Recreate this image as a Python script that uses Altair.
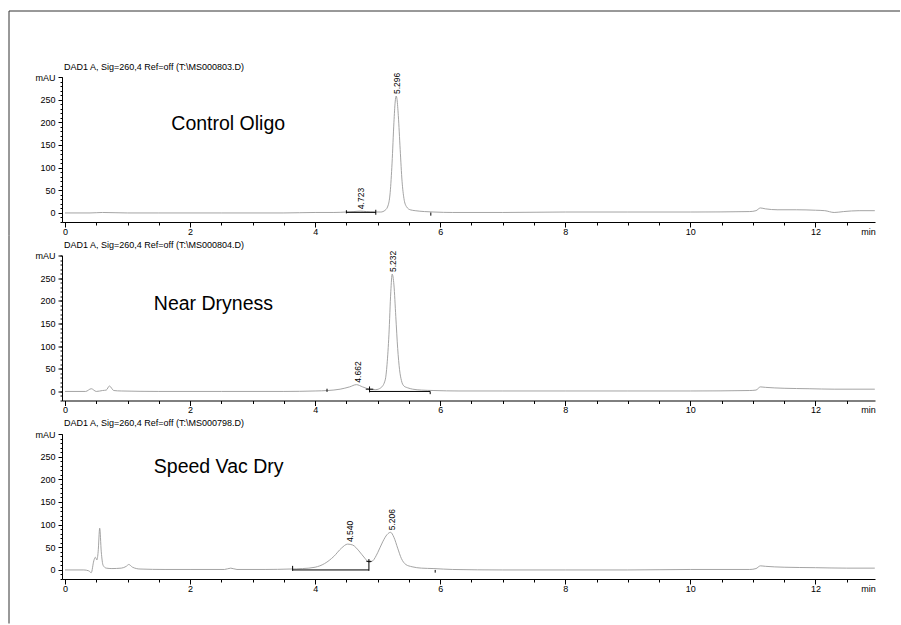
import altair as alt
import pandas as pd

FONT = "Liberation Sans"

TITLES = [
    "DAD1 A, Sig=260,4 Ref=off (T:\\MS000803.D)",
    "DAD1 A, Sig=260,4 Ref=off (T:\\MS000804.D)",
    "DAD1 A, Sig=260,4 Ref=off (T:\\MS000798.D)",
]
NAMES = ["Control Oligo", "Near Dryness", "Speed Vac Dry"]
NAME_T = [1.70, 1.42, 1.42]
NAME_V = [184, 180, 213]

# chromatogram traces (time in min, absorbance in mAU)
T1 = [0.0, 0.4, 0.6, 1.0, 1.5, 2.5, 3.5, 4.0, 4.3, 4.5, 4.62, 4.72, 4.82, 4.95, 5.05, 5.12, 5.17, 5.20, 5.23, 5.26,
      5.28, 5.296, 5.31, 5.33, 5.36, 5.39, 5.42, 5.46, 5.52, 5.60, 5.75, 5.90, 6.20, 7.0, 8.0, 9.0, 10.0, 10.95, 11.05,
      11.12, 11.2, 11.4, 11.7, 12.0, 12.15, 12.3, 12.45, 12.7, 12.95]
V1 = [0, 0, 1, 0, 0, 0, 0, 1, 1, 2, 3, 4, 3, 2, 2, 6, 18, 45, 110, 200,
      245, 258, 250, 215, 140, 70, 32, 14, 7, 5, 3, 2, 1, 1, 2, 2, 2, 3, 5,
      11, 9, 7, 7, 6, 5, 1, 3, 5, 5]

T2 = [0.0, 0.33, 0.42, 0.50, 0.60, 0.66, 0.71, 0.78, 0.90, 1.5, 2.5, 3.5, 4.0, 4.2, 4.4, 4.55, 4.66, 4.76, 4.87, 4.97,
      5.05, 5.12, 5.15, 5.18, 5.21, 5.232, 5.26, 5.29, 5.32, 5.35, 5.38, 5.42, 5.48, 5.56, 5.70, 5.90, 6.3, 7.0, 8.0, 9.0,
      10.0, 10.95, 11.05, 11.12, 11.2, 11.5, 11.9, 12.3, 12.6, 12.95]
V2 = [0, 0, 6, 0, 2, 3, 12, 2, 1, 0, 0, 0, 1, 2, 5, 10, 15, 10, 5, 4,
      8, 25, 60, 125, 220, 259, 235, 165, 95, 48, 24, 12, 8, 5, 3, 2, 1, 1, 1, 1,
      1, 2, 3, 10, 9, 7, 6, 5, 5, 5]

T3 = [0.0, 0.30, 0.38, 0.42, 0.46, 0.485, 0.51, 0.53, 0.555, 0.58, 0.61, 0.66, 0.75, 0.90, 0.98, 1.02, 1.08, 1.20, 1.6,
      2.0, 2.55, 2.65, 2.75, 3.2, 3.6, 3.8, 4.0, 4.15, 4.3, 4.42, 4.52, 4.60, 4.70, 4.80, 4.86, 4.92, 5.00, 5.08, 5.15,
      5.206, 5.26, 5.32, 5.38, 5.45, 5.55, 5.70, 5.90, 6.2, 7.0, 8.0, 9.0, 10.0, 10.95, 11.05, 11.12, 11.2, 11.5, 12.0,
      12.5, 12.95]
V3 = [0, 0, -2, -6, 20, 28, 22, 40, 92, 40, 10, 4, 3, 4, 8, 12, 6, 2, 1,
      1, 1, 4, 1, 1, 2, 3, 6, 14, 30, 48, 57, 55, 42, 25, 17, 20, 38, 62, 78,
      83, 72, 48, 25, 12, 7, 4, 3, 1, 0, 0, 0, 1, 1, 3, 9, 8, 6, 5,
      4, 4]

TRACE_T = [T1, T2, T3]
TRACE_V = [V1, V2, V3]

PEAK_T = [[4.723, 5.296], [4.662, 5.232], [4.540, 5.206]]
PEAK_V = [[4, 258], [15, 259], [57, 83]]
PEAK_LBL = [["4.723", "5.296"], ["4.662", "5.232"], ["4.540", "5.206"]]

# integration baselines (horizontal segments)
BASE_T1 = [[4.50], [4.87, 4.81], [3.64, 4.82]]
BASE_T2 = [[4.97], [5.84, 4.93], [4.86, 4.90]]
BASE_V = [[1.3], [0, 5], [0, 19]]

# peak start / end markers (vertical strokes)
MARK_T = [[4.50, 4.97, 5.85], [4.19, 4.87, 5.84], [3.64, 4.86, 5.92]]
MARK_LO = [[-1, -4, -6], [-1, -2, -6], [-2, -2, -6]]
MARK_HI = [[6, 7, 1], [6, 11, 0], [9, 24, 0]]

X_MAJOR = [0, 2, 4, 6, 8, 10, 12]
X_UNIT_AT = 12.84
X_MINOR = [i * 0.5 for i in range(26)]
Y_MAJOR = [0, 50, 100, 150, 200, 250, 300]
Y_MINOR = list(range(-20, 301, 10))
X_DOMAIN = [-0.048, 12.953]
Y_DOMAIN = [-20, 300]

W, H = 813, 145
GAP = 33.5
BORDER_TOP = [-66, -20, -20]
BORDER_BOT = [158.5, 158.5, 189.5]
TITLE_DY = [72, 25.5, 25.5]


def panel(i):
    xs = alt.Scale(domain=X_DOMAIN, nice=False, zero=False)
    ys = alt.Scale(domain=Y_DOMAIN, nice=False, zero=False)
    tr = pd.DataFrame({"t": TRACE_T[i], "v": TRACE_V[i]})

    x_major = alt.Axis(
        orient="bottom", values=X_MAJOR + [X_UNIT_AT], title=None, grid=False,
        labelExpr="datum.value > 12.5 ? 'min' : datum.label",
        tickSize=5, labelPadding=0, labelFlush=False, labelOverlap=False,
        tickOpacity={"condition": {"test": "datum.value > 12.5", "value": 0}, "value": 1},
    )
    y_major = alt.Axis(
        orient="left", values=Y_MAJOR, title=None, grid=False,
        labelExpr="datum.value == 300 ? 'mAU' : datum.label",
        tickSize=4, labelPadding=3, labelFlush=False, labelOverlap=False,
    )
    x_minor = alt.Axis(orient="bottom", values=X_MINOR, title=None, grid=False,
                       labels=False, domain=False, tickSize=3)
    y_minor = alt.Axis(orient="left", values=Y_MINOR, title=None, grid=False,
                       labels=False, domain=False, tickSize=2)

    line = alt.Chart(tr).mark_line(color="#9a9a9a", strokeWidth=0.9, interpolate="monotone").encode(
        x=alt.X("t:Q", scale=xs, axis=x_major),
        y=alt.Y("v:Q", scale=ys, axis=y_major),
    )
    minor = alt.Chart(tr).mark_point(opacity=0).encode(
        x=alt.X("t:Q", scale=xs, axis=x_minor),
        y=alt.Y("v:Q", scale=ys, axis=y_minor),
    )
    bdf = pd.DataFrame({"t1": BASE_T1[i], "t2": BASE_T2[i], "v": BASE_V[i]})
    base = alt.Chart(bdf).mark_rule(color="black", strokeWidth=1).encode(
        x=alt.X("t1:Q", scale=xs, axis=None), x2="t2:Q",
        y=alt.Y("v:Q", scale=ys, axis=None),
    )
    mdf = pd.DataFrame({"t": MARK_T[i], "lo": MARK_LO[i], "hi": MARK_HI[i]})
    marks = alt.Chart(mdf).mark_rule(color="black", strokeWidth=1).encode(
        x=alt.X("t:Q", scale=xs, axis=None),
        y=alt.Y("lo:Q", scale=ys, axis=None), y2="hi:Q",
    )
    pdf = pd.DataFrame({"t": PEAK_T[i], "v": PEAK_V[i], "lbl": PEAK_LBL[i]})
    plabels = alt.Chart(pdf).mark_text(
        angle=270, align="left", baseline="middle", dx=2, dy=1,
        fontSize=8.5, font=FONT, color="black",
    ).encode(
        x=alt.X("t:Q", scale=xs, axis=None),
        y=alt.Y("v:Q", scale=ys, axis=None),
        text="lbl:N",
    )
    ndf = pd.DataFrame({"t": [NAME_T[i]], "v": [NAME_V[i]], "name": [NAMES[i]]})
    name = alt.Chart(ndf).mark_text(
        align="left", baseline="alphabetic", fontSize=19.5, font=FONT, color="black",
    ).encode(
        x=alt.X("t:Q", scale=xs, axis=None),
        y=alt.Y("v:Q", scale=ys, axis=None),
        text="name:N",
    )
    one = pd.DataFrame({"k": [0]})
    layers = [line, minor, base, marks, plabels, name]
    layers.append(
        alt.Chart(one).mark_rule(color="#333333", strokeWidth=1).encode(
            x=alt.value(-53), y=alt.value(BORDER_TOP[i]), y2=alt.value(BORDER_BOT[i]))
    )
    if i == 0:
        layers.append(
            alt.Chart(one).mark_rule(color="#333333", strokeWidth=1).encode(
                x=alt.value(-53), x2=alt.value(838), y=alt.value(BORDER_TOP[i]))
        )
    return alt.layer(*layers).resolve_axis(x="independent", y="independent").properties(
        width=W, height=H,
        title=alt.TitleParams(
            text=TITLES[i], anchor="start", frame="group", fontSize=9, font=FONT,
            fontWeight="normal", color="black", offset=2, dx=2, dy=TITLE_DY[i], baseline="bottom",
        ),
    )


chart = alt.vconcat(panel(0), panel(1), panel(2), spacing=GAP, bounds="flush").properties(
    padding={"left": 8, "top": 10, "right": 0, "bottom": 0},
    background="white",
).configure_view(stroke=None).configure_axis(
    domainColor="black", tickColor="black", labelColor="black",
    labelFont=FONT, labelFontSize=9, domainWidth=1, tickWidth=1,
)

chart.save("out.html", embed_options={"renderer": "svg", "actions": False})
